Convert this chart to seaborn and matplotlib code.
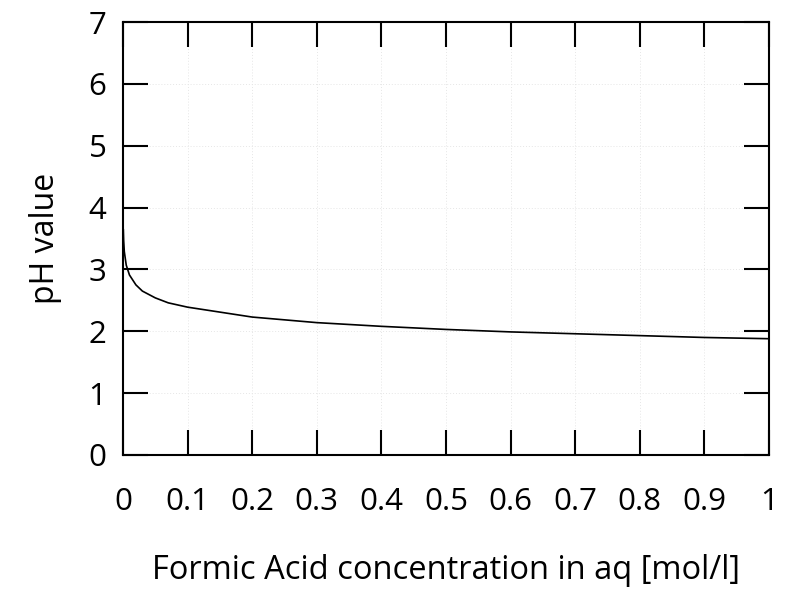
import matplotlib
matplotlib.use("Agg")
import matplotlib.pyplot as plt
import seaborn as sns
import pandas as pd

concentration = [0.0005, 0.001, 0.002, 0.005, 0.01, 0.02, 0.03, 0.05, 0.07, 0.1,
                 0.2, 0.3, 0.4, 0.5, 0.6, 0.7, 0.8, 0.9, 1.0]
ph_value = [3.65, 3.47, 3.29, 3.07, 2.91, 2.75, 2.65, 2.54, 2.46, 2.39,
            2.23, 2.14, 2.08, 2.03, 1.99, 1.96, 1.93, 1.90, 1.88]
x_ticks = [0, 0.1, 0.2, 0.3, 0.4, 0.5, 0.6, 0.7, 0.8, 0.9, 1]
x_tick_labels = ["0", "0.1", "0.2", "0.3", "0.4", "0.5", "0.6", "0.7", "0.8", "0.9", "1"]
y_ticks = [0, 1, 2, 3, 4, 5, 6, 7]

sns.set_theme(style="white")
plt.rcParams['font.family'] = ['Open Sans', 'DejaVu Sans']

df = pd.DataFrame({"c": concentration, "ph": ph_value})

fig = plt.figure(figsize=(7.86, 5.89), dpi=100)
ax = fig.add_axes([123/786, 1 - 455/589, (769-123)/786, (455-22)/589])
sns.lineplot(data=df, x="c", y="ph", ax=ax, color="black", linewidth=1.2)

ax.set_xlim(0, 1)
ax.set_ylim(0, 7)
ax.set_xticks(x_ticks)
ax.set_xticklabels(x_tick_labels)
ax.set_yticks(y_ticks)
ax.grid(True, color="#e6e6e6", linestyle=(0, (1, 2)), linewidth=0.7)
for s in ax.spines.values():
    s.set_color("black")
    s.set_linewidth(1.5)
ax.tick_params(axis="both", which="major", direction="in", length=18, width=1.5,
               top=True, right=True, bottom=True, left=True,
               labelsize=22.5, colors="black")
ax.tick_params(axis="x", pad=23)
ax.tick_params(axis="y", pad=12)
ax.set_xlabel("Formic Acid concentration in aq [mol/l]", fontsize=23.5, labelpad=27, color="black")
ax.set_ylabel("pH value", fontsize=23, labelpad=19, color="black")

fig.savefig("out.png", dpi=100)
